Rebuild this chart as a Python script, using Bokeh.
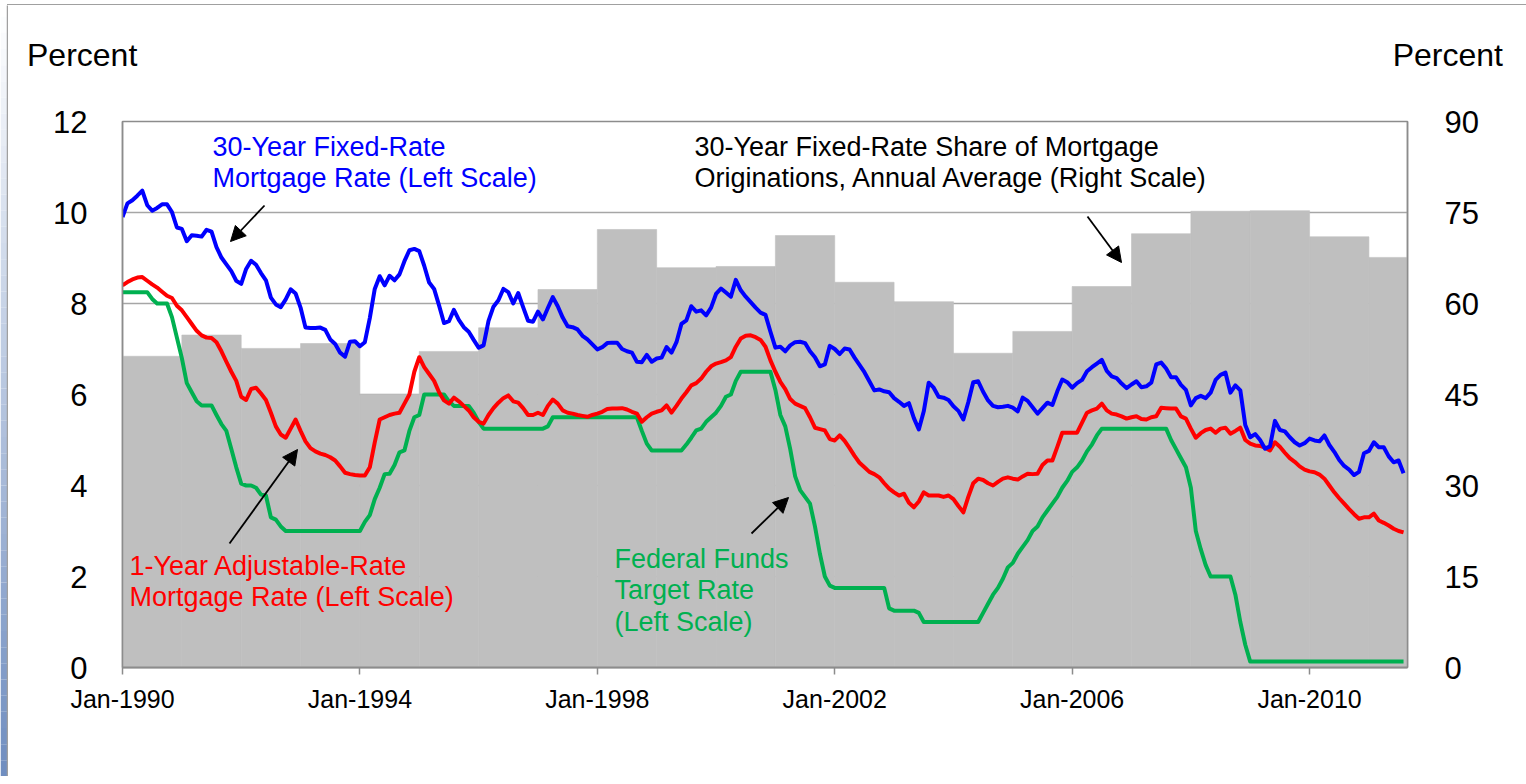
from bokeh.plotting import figure
from bokeh.models import Range1d, LinearAxis, FixedTicker, Label, Arrow, NormalHead, Div
from bokeh.layouts import row, column
from bokeh.embed import file_html
from bokeh.resources import INLINE

# ---------------- DATA ----------------
START_YEAR = 1990  # first monthly observation: Jan-1990

# 30-year fixed-rate mortgage rate, monthly, percent (left scale)
frm_30yr = [
    9.90, 10.20, 10.27, 10.37, 10.48, 10.16, 10.04, 10.10, 10.18, 10.18, 10.01, 9.67,   # 1990
    9.64, 9.37, 9.50, 9.49, 9.47, 9.62, 9.58, 9.24, 9.01, 8.86, 8.71, 8.50,            # 1991
    8.43, 8.76, 8.94, 8.85, 8.67, 8.51, 8.13, 7.98, 7.92, 8.09, 8.31, 8.22,            # 1992
    7.91, 7.47, 7.46, 7.46, 7.47, 7.42, 7.21, 7.11, 6.92, 6.83, 7.16, 7.17,            # 1993
    7.06, 7.15, 7.68, 8.32, 8.60, 8.40, 8.61, 8.51, 8.64, 8.93, 9.17, 9.20,            # 1994
    9.15, 8.83, 8.46, 8.32, 7.96, 7.57, 7.61, 7.86, 7.64, 7.48, 7.38, 7.20,            # 1995
    7.03, 7.08, 7.62, 7.93, 8.07, 8.32, 8.25, 8.00, 8.23, 7.92, 7.62, 7.60,            # 1996
    7.82, 7.65, 7.90, 8.14, 7.94, 7.69, 7.50, 7.48, 7.43, 7.29, 7.21, 7.10,            # 1997
    6.99, 7.04, 7.13, 7.14, 7.14, 7.00, 6.95, 6.92, 6.72, 6.71, 6.87, 6.72,            # 1998
    6.79, 6.81, 7.04, 6.92, 7.15, 7.55, 7.63, 7.94, 7.82, 7.85, 7.74, 7.91,            # 1999
    8.21, 8.33, 8.24, 8.15, 8.52, 8.29, 8.15, 8.03, 7.91, 7.80, 7.75, 7.38,            # 2000
    7.03, 7.05, 6.95, 7.08, 7.15, 7.16, 7.13, 6.95, 6.82, 6.62, 6.66, 7.07,            # 2001
    7.00, 6.89, 7.01, 6.99, 6.81, 6.65, 6.49, 6.29, 6.09, 6.11, 6.07, 6.05,            # 2002
    5.92, 5.84, 5.75, 5.81, 5.48, 5.23, 5.63, 6.26, 6.15, 5.95, 5.93, 5.88,            # 2003
    5.74, 5.64, 5.45, 5.83, 6.27, 6.29, 6.06, 5.87, 5.75, 5.72, 5.73, 5.75,            # 2004
    5.71, 5.63, 5.93, 5.86, 5.72, 5.58, 5.70, 5.82, 5.77, 6.07, 6.33, 6.27,            # 2005
    6.15, 6.25, 6.32, 6.51, 6.60, 6.68, 6.76, 6.52, 6.40, 6.36, 6.24, 6.14,            # 2006
    6.22, 6.29, 6.16, 6.18, 6.26, 6.66, 6.70, 6.57, 6.38, 6.38, 6.21, 6.10,            # 2007
    5.76, 5.92, 5.97, 5.92, 6.04, 6.32, 6.43, 6.48, 6.04, 6.20, 6.09, 5.33,            # 2008
    5.06, 5.13, 5.00, 4.81, 4.86, 5.42, 5.22, 5.19, 5.06, 4.95, 4.88, 4.93,            # 2009
    5.03, 4.99, 4.97, 5.10, 4.89, 4.74, 4.56, 4.43, 4.35, 4.23, 4.30, 4.71,            # 2010
    4.76, 4.95, 4.84, 4.84, 4.64, 4.51, 4.55, 4.27,                                    # 2011
]

# 1-year adjustable-rate mortgage rate, monthly, percent (left scale)
arm_1yr = [
    8.40, 8.47, 8.53, 8.57, 8.58, 8.50, 8.42, 8.35, 8.26, 8.17, 8.12, 7.95,   # 1990
    7.85, 7.70, 7.55, 7.40, 7.30, 7.25, 7.24, 7.15, 6.95, 6.72, 6.50, 6.30,   # 1991
    5.95, 5.88, 6.12, 6.15, 6.02, 5.88, 5.60, 5.30, 5.12, 5.05, 5.25, 5.45,   # 1992
    5.20, 4.97, 4.82, 4.75, 4.70, 4.67, 4.62, 4.55, 4.42, 4.28, 4.25, 4.23,   # 1993
    4.22, 4.22, 4.40, 4.95, 5.45, 5.50, 5.55, 5.58, 5.60, 5.80, 6.00, 6.50,   # 1994
    6.82, 6.60, 6.45, 6.30, 6.05, 5.87, 5.80, 5.93, 5.85, 5.75, 5.65, 5.50,   # 1995
    5.40, 5.36, 5.55, 5.70, 5.82, 5.92, 5.98, 5.85, 5.82, 5.70, 5.55, 5.55,   # 1996
    5.60, 5.55, 5.75, 5.89, 5.80, 5.65, 5.60, 5.58, 5.55, 5.53, 5.51, 5.55,   # 1997
    5.58, 5.62, 5.68, 5.69, 5.69, 5.70, 5.67, 5.62, 5.58, 5.40, 5.50, 5.58,   # 1998
    5.62, 5.65, 5.76, 5.60, 5.75, 5.91, 6.05, 6.20, 6.25, 6.35, 6.50, 6.62,   # 1999
    6.68, 6.71, 6.75, 6.82, 7.05, 7.23, 7.29, 7.30, 7.26, 7.20, 7.05, 6.75,   # 2000
    6.50, 6.28, 6.12, 5.90, 5.80, 5.75, 5.70, 5.50, 5.27, 5.24, 5.21, 5.02,   # 2001
    4.99, 5.10, 4.98, 4.82, 4.65, 4.50, 4.40, 4.30, 4.25, 4.18, 4.05, 3.93,   # 2002
    3.85, 3.78, 3.82, 3.62, 3.52, 3.65, 3.85, 3.78, 3.78, 3.78, 3.75, 3.78,   # 2003
    3.70, 3.55, 3.41, 3.75, 4.05, 4.15, 4.12, 4.05, 4.00, 4.08, 4.15, 4.18,   # 2004
    4.15, 4.13, 4.20, 4.26, 4.25, 4.26, 4.45, 4.55, 4.55, 4.85, 5.16, 5.16,   # 2005
    5.16, 5.16, 5.38, 5.60, 5.65, 5.69, 5.80, 5.65, 5.58, 5.56, 5.52, 5.47,   # 2006
    5.50, 5.52, 5.46, 5.45, 5.50, 5.52, 5.71, 5.70, 5.69, 5.69, 5.52, 5.47,   # 2007
    5.25, 5.05, 5.15, 5.22, 5.25, 5.16, 5.25, 5.27, 5.14, 5.20, 5.27, 5.00,   # 2008
    4.92, 4.88, 4.87, 4.83, 4.77, 4.95, 4.85, 4.72, 4.60, 4.52, 4.42, 4.35,   # 2009
    4.31, 4.29, 4.24, 4.15, 4.00, 3.85, 3.72, 3.60, 3.48, 3.37, 3.27, 3.30,   # 2010
    3.30, 3.38, 3.23, 3.18, 3.12, 3.05, 3.00, 2.97,                           # 2011
]

# Federal funds target rate, monthly average, percent (left scale)
fed_funds = [
    8.25, 8.25, 8.25, 8.25, 8.25, 8.25, 8.10, 8.00, 8.00, 8.00, 7.70, 7.25,   # 1990
    6.80, 6.25, 6.05, 5.85, 5.76, 5.76, 5.76, 5.55, 5.35, 5.20, 4.80, 4.40,   # 1991
    4.04, 4.00, 4.00, 3.95, 3.80, 3.78, 3.30, 3.25, 3.10, 3.00, 3.00, 3.00,   # 1992
    3.00, 3.00, 3.00, 3.00, 3.00, 3.00, 3.00, 3.00, 3.00, 3.00, 3.00, 3.00,   # 1993
    3.00, 3.20, 3.35, 3.70, 3.95, 4.25, 4.26, 4.45, 4.73, 4.77, 5.20, 5.50,   # 1994
    5.55, 6.00, 6.00, 6.00, 6.00, 6.00, 5.85, 5.75, 5.75, 5.75, 5.75, 5.60,   # 1995
    5.40, 5.25, 5.25, 5.25, 5.25, 5.25, 5.25, 5.25, 5.25, 5.25, 5.25, 5.25,   # 1996
    5.25, 5.25, 5.30, 5.50, 5.50, 5.50, 5.50, 5.50, 5.50, 5.50, 5.50, 5.50,   # 1997
    5.50, 5.50, 5.50, 5.50, 5.50, 5.50, 5.50, 5.50, 5.50, 5.20, 4.92, 4.77,   # 1998
    4.77, 4.77, 4.77, 4.77, 4.77, 4.77, 4.90, 5.05, 5.21, 5.25, 5.40, 5.50,   # 1999
    5.60, 5.75, 5.95, 6.00, 6.30, 6.50, 6.50, 6.50, 6.50, 6.50, 6.50, 6.50,   # 2000
    6.10, 5.55, 5.30, 4.80, 4.20, 3.90, 3.75, 3.60, 3.10, 2.50, 2.00, 1.80,   # 2001
    1.75, 1.75, 1.75, 1.75, 1.75, 1.75, 1.75, 1.75, 1.75, 1.75, 1.75, 1.30,   # 2002
    1.25, 1.25, 1.25, 1.25, 1.25, 1.20, 1.00, 1.00, 1.00, 1.00, 1.00, 1.00,   # 2003
    1.00, 1.00, 1.00, 1.00, 1.00, 1.00, 1.20, 1.40, 1.60, 1.75, 1.95, 2.20,   # 2004
    2.30, 2.50, 2.65, 2.80, 3.00, 3.10, 3.30, 3.45, 3.60, 3.75, 3.95, 4.10,   # 2005
    4.30, 4.40, 4.55, 4.75, 4.90, 5.10, 5.25, 5.25, 5.25, 5.25, 5.25, 5.25,   # 2006
    5.25, 5.25, 5.25, 5.25, 5.25, 5.25, 5.25, 5.25, 5.00, 4.80, 4.60, 4.40,   # 2007
    3.95, 3.00, 2.60, 2.25, 2.00, 2.00, 2.00, 2.00, 2.00, 1.60, 1.00, 0.50,   # 2008
    0.13, 0.13, 0.13, 0.13, 0.13, 0.13, 0.13, 0.13, 0.13, 0.13, 0.13, 0.13,   # 2009
    0.13, 0.13, 0.13, 0.13, 0.13, 0.13, 0.13, 0.13, 0.13, 0.13, 0.13, 0.13,   # 2010
    0.13, 0.13, 0.13, 0.13, 0.13, 0.13, 0.13, 0.13,                           # 2011
]

# 30-year fixed-rate share of mortgage originations, annual average, percent (right scale)
share_years = list(range(1990, 2012))
share_values = [51.3, 54.8, 52.6, 53.4, 45.0, 52.1, 56.0, 62.3, 72.2, 65.9, 66.1,
                71.2, 63.5, 60.3, 51.8, 55.4, 62.8, 71.5, 75.2, 75.3, 71.0, 67.6]

left_ticks = [0, 2, 4, 6, 8, 10, 12]
right_ticks = [0, 15, 30, 45, 60, 75, 90]
x_tick_years = [1990, 1994, 1998, 2002, 2006, 2010]
x_tick_labels = ["Jan-1990", "Jan-1994", "Jan-1998", "Jan-2002", "Jan-2006", "Jan-2010"]
axis_title = "Percent"

# ---------------- LAYOUT / STYLE ----------------
FONT = "Liberation Sans"
X_START, X_END = 1990.0, 2011.65
Y_MAX, Y2_MAX = 12, 90
FRAME_W, FRAME_H = 1285, 546
FRAME_LEFT_PX, FRAME_TOP_PX = 122, 121   # frame position on the page
AXIS_GRAY = "#8c8c8c"
STRIP_W = 8          # decorative left strip (page x 0..8)
HEADER_H = 90        # header band holding the "Percent" titles
MAIN_BORDER_TOP = FRAME_TOP_PX - HEADER_H
TOTAL_H = 776
RIGHT_BORDER = 111
MAIN_W = FRAME_LEFT_PX - STRIP_W + FRAME_W + RIGHT_BORDER


def px_x(px):
    return X_START + (px - FRAME_LEFT_PX) / FRAME_W * (X_END - X_START)


def px_y(py):
    return Y_MAX - (py - FRAME_TOP_PX) / FRAME_H * Y_MAX


month_x = [START_YEAR + i / 12 for i in range(len(frm_30yr))]

# ---- main chart ----
p = figure(frame_width=FRAME_W, frame_height=FRAME_H,
           x_range=Range1d(X_START, X_END), y_range=Range1d(0, Y_MAX),
           output_backend="svg", toolbar_location=None,
           min_border_left=FRAME_LEFT_PX - STRIP_W, min_border_right=RIGHT_BORDER,
           min_border_top=MAIN_BORDER_TOP,
           min_border_bottom=TOTAL_H - HEADER_H - MAIN_BORDER_TOP - FRAME_H,
           background_fill_color="white", border_fill_color="white",
           outline_line_color=AXIS_GRAY, outline_line_width=1.5)
p.extra_y_ranges = {"share": Range1d(0, Y2_MAX)}

p.xgrid.visible = False
p.ygrid.ticker = FixedTicker(ticks=left_ticks)
p.ygrid.grid_line_color = "#a6a6a6"
p.ygrid.grid_line_width = 1.5

ya = p.yaxis[0]
ya.ticker = FixedTicker(ticks=left_ticks)
ya.major_tick_line_color = None
ya.minor_tick_line_color = None
ya.axis_line_color = AXIS_GRAY
ya.axis_line_width = 1.5
ya.major_label_text_font = FONT
ya.major_label_text_font_size = "31px"
ya.major_label_text_color = "black"
ya.major_label_standoff = 29

ra = LinearAxis(y_range_name="share", ticker=FixedTicker(ticks=right_ticks))
ra.major_tick_line_color = None
ra.minor_tick_line_color = None
ra.axis_line_color = AXIS_GRAY
ra.axis_line_width = 1.5
ra.major_label_text_font = FONT
ra.major_label_text_font_size = "31px"
ra.major_label_text_color = "black"
ra.major_label_standoff = 31
p.add_layout(ra, "right")

xa = p.xaxis[0]
xa.ticker = FixedTicker(ticks=x_tick_years)
xa.major_label_overrides = {y: lbl for y, lbl in zip(x_tick_years, x_tick_labels)}
xa.major_tick_out = 7
xa.major_tick_in = 0
xa.major_tick_line_color = AXIS_GRAY
xa.major_tick_line_width = 1.5
xa.minor_tick_line_color = None
xa.axis_line_color = AXIS_GRAY
xa.axis_line_width = 2
xa.major_label_text_font = FONT
xa.major_label_text_font_size = "25px"
xa.major_label_text_color = "black"
xa.major_label_standoff = 10

# bars (right scale)
p.vbar(x=[y + 0.5 for y in share_years], width=1.0, top=share_values, bottom=0,
       y_range_name="share", fill_color="#bfbfbf", line_color="#bfbfbf", line_width=0.6)

# lines (left scale)
p.line(month_x, fed_funds, line_color="#00b050", line_width=4, line_join="round")
p.line(month_x, arm_1yr, line_color="#ff0000", line_width=4, line_join="round")
p.line(month_x, frm_30yr, line_color="#0000ff", line_width=4, line_join="round")


def note(lines, left_px, first_center_px, color, size="27px", spacing=31.5):
    for i, t in enumerate(lines):
        p.add_layout(Label(x=px_x(left_px), y=px_y(first_center_px + i * spacing), text=t,
                           text_font=FONT, text_font_size=size, text_color=color,
                           text_align="left", text_baseline="middle"))


note(["30-Year Fixed-Rate", "Mortgage Rate (Left Scale)"], 212, 146, "#0000ff")
note(["30-Year Fixed-Rate Share of Mortgage",
      "Originations, Annual Average (Right Scale)"], 694, 146, "black", size="27px")
note(["1-Year Adjustable-Rate", "Mortgage Rate (Left Scale)"], 129, 565, "#ff0000")
note(["Federal Funds", "Target Rate", "(Left Scale)"], 614, 558, "#00b050")


def arrow(x0, y0, x1, y1):
    p.add_layout(Arrow(end=NormalHead(size=15, fill_color="black", line_color="black"),
                       x_start=px_x(x0), y_start=px_y(y0), x_end=px_x(x1), y_end=px_y(y1),
                       line_color="black", line_width=1.8))


arrow(264, 205, 230, 241)
arrow(229, 543, 297, 449)
arrow(751, 533, 788, 497)
arrow(1087, 216, 1121, 262)

# ---- header band with the two axis titles (left and right scale) ----
span_style = ("position:absolute;top:39px;font-family:'%s';font-size:32px;"
              "line-height:32px;color:black;white-space:nowrap;" % FONT)
header_html = (
    '<div style="position:relative;width:%dpx;height:%dpx;">'
    '<div style="position:absolute;left:-1px;top:4px;width:%dpx;border-top:1.5px solid #a0a0a0;"></div>'
    '<span style="%sleft:%dpx;">%s</span>'
    '<span style="%sright:%dpx;">%s</span>'
    '</div>'
) % (MAIN_W, HEADER_H, MAIN_W + 12,
     span_style, 27 - STRIP_W, axis_title,
     span_style, MAIN_W - (1503 - STRIP_W), axis_title)
header = Div(text=header_html, width=MAIN_W, height=HEADER_H, margin=0)

# ---- decorative slide edge on the left ----
strip = figure(width=STRIP_W, height=TOTAL_H, x_range=Range1d(0, STRIP_W),
               y_range=Range1d(TOTAL_H, 0), output_backend="svg", toolbar_location=None,
               min_border=0, outline_line_color=None, background_fill_color="white",
               border_fill_color="white")
strip.axis.visible = False
strip.grid.visible = False
N_BANDS = 48
band_top, band_bot, band_col = [], [], []
for i in range(N_BANDS):
    t = i / (N_BANDS - 1)
    r = int(round(255 + (112 - 255) * t))
    g = int(round(255 + (142 - 255) * t))
    b = int(round(255 + (192 - 255) * t))
    band_top.append(i * TOTAL_H / N_BANDS)
    band_bot.append((i + 1) * TOTAL_H / N_BANDS)
    band_col.append("#%02x%02x%02x" % (r, g, b))
strip.quad(left=0, right=STRIP_W - 1.5, top=band_top, bottom=band_bot,
           fill_color=band_col, line_color=None)
strip.segment(x0=[STRIP_W - 1], y0=[5], x1=[STRIP_W - 1], y1=[TOTAL_H],
              line_color="#a0a0a0", line_width=1.5)

layout = row(strip, column(header, p))

open("out.html", "w").write(file_html(layout, INLINE))
